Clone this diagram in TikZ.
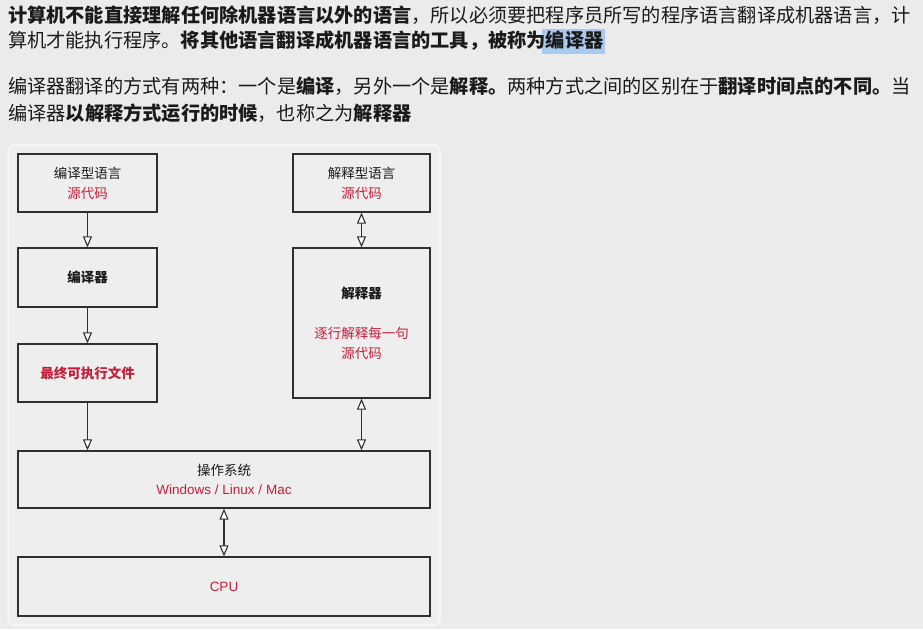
\documentclass[tikz,border=0pt]{standalone}
\usepackage{fontspec}
\usetikzlibrary{arrows.meta}
\setmainfont{Liberation Sans}
\newfontfamily\cjk{Noto Sans CJK SC}
\definecolor{pagebg}{HTML}{EBEBEB}
\definecolor{panelfill}{HTML}{EEEEEE}
\definecolor{panelline}{HTML}{F8F8F8}
\definecolor{boxline}{HTML}{2F2F2F}
\definecolor{txt}{HTML}{1A1A1A}
\definecolor{redtxt}{RGB}{196,30,58}
\definecolor{hl}{HTML}{A9C9F0}
\tikzset{
  para/.style={anchor=west, inner sep=0pt, text=txt, font=\cjk\fontsize{19.2}{19.2}\selectfont},
  boxnode/.style={draw=boxline, fill=panelfill, line width=1.3pt, inner sep=0pt, align=center,
    text=txt, font=\fontsize{13.5}{20}\selectfont},
  conn/.style={line width=1.2pt, draw=boxline},
  tip/.tip={Triangle[width=9pt, length=11pt, fill=white, line width=1.1pt]},
}
\newcommand{\rd}[1]{\textcolor{redtxt}{#1}}
\begin{document}
\begin{tikzpicture}[x=1pt,y=-1pt]
\useasboundingbox (0,0) rectangle (923,629);
\fill[pagebg] (0,0) rectangle (923,629);
% highlight
\fill[hl] (542,29) rectangle (605,54);
% paragraphs
\node[para] (p1) at (8,15) {\textbf{计算机不能直接理解任何除机器语言以外的语言}，所以必须要把程序员所写的程序语言翻译成机器语言，计};
\node[para] (p2) at (8,41) {算机才能执行程序。\textbf{将其他语言翻译成机器语言的工具，被称为编译器}};
\node[para] (p3) at (8,86) {编译器翻译的方式有两种：一个是\textbf{编译}，另外一个是\textbf{解释。}两种方式之间的区别在于\textbf{翻译时间点的不同。}当};
\node[para] (p4) at (8,113) {编译器\textbf{以解释方式运行的时候}，也称之为\textbf{解释器}};
% panel
\filldraw[fill=panelfill, draw=panelline, line width=1.5pt, rounded corners=6pt] (8,145) rectangle (440,625);
% boxes
\node[boxnode, minimum width=139pt, minimum height=58pt] (src1) at (87.5,183) {{\cjk 编译型语言}\\{\cjk\rd{源代码}}};
\node[boxnode, minimum width=137pt, minimum height=58pt] (src2) at (361.5,183) {{\cjk 解释型语言}\\{\cjk\rd{源代码}}};
\node[boxnode, minimum width=139pt, minimum height=59pt] (comp) at (87.5,277.5) {{\cjk\bfseries 编译器}};
\node[boxnode, minimum width=137pt, minimum height=150pt] (interp) at (361.5,323) {{\cjk\bfseries 解释器}\\[20pt]{\cjk\rd{逐行解释每一句}}\\{\cjk\rd{源代码}}};
\node[boxnode, minimum width=139pt, minimum height=58pt] (exe) at (87.5,373) {{\cjk\bfseries\rd{最终可执行文件}}};
\node[boxnode, minimum width=412pt, minimum height=57pt] (os) at (224,479.5) {{\cjk 操作系统}\\[-1pt]\rd{Windows / Linux / Mac}};
\node[boxnode, minimum width=412pt, minimum height=59pt] (cpu) at (224,586.5) {\rd{CPU}};
% connectors
\draw[conn, -{tip}] (src1.south) -- (comp.north);
\draw[conn, -{tip}] (comp.south) -- (exe.north);
\draw[conn, -{tip}] (exe.south) -- (exe.south |- os.north);
\draw[conn, {tip}-{tip}] (src2.south) -- (interp.north);
\draw[conn, {tip}-{tip}] (interp.south) -- (interp.south |- os.north);
\draw[conn, {tip}-{tip}] (os.south) -- (cpu.north);
\end{tikzpicture}
\end{document}
